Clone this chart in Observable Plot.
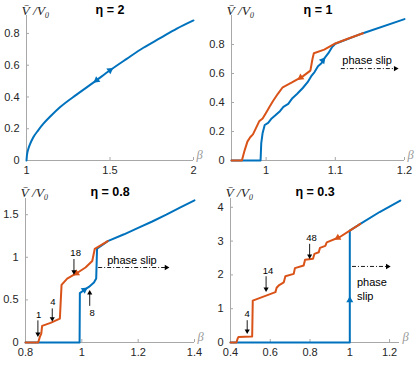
<!DOCTYPE html>
<html>
<head>
<meta charset="utf-8">
<script src="https://cdn.jsdelivr.net/npm/d3@7"></script>
<script src="https://cdn.jsdelivr.net/npm/@observablehq/plot@0.6"></script>
<style>
  html, body { margin: 0; padding: 0; background: #fff; }
  #chart { position: relative; width: 415px; height: 365px; overflow: hidden; background: #fff; }
  #chart svg { position: absolute; }
</style>
</head>
<body>
<div id="chart"></div>
<script>
// ---------------- DATA ----------------
const yLabel = "V\u0304 /V\u2080";
const xLabel = "β";

// Panel 1: eta = 2
const p1Title = "η = 2";
const p1XTicks = [1, 1.5, 2];
const p1XLabels = ["1", "1.5", "2"];
const p1YTicks = [0, 0.2, 0.4, 0.6, 0.8];
const p1YLabels = ["0", "0.2", "0.4", "0.6", "0.8"];
const p1Blue = [[1,0],[1.003,0.035],[1.01,0.07],[1.02,0.1],[1.04,0.145],[1.07,0.19],[1.1,0.23],[1.15,0.285],[1.2,0.335],[1.3,0.415],[1.4,0.49],[1.5,0.568],[1.6,0.64],[1.7,0.71],[1.8,0.77],[1.9,0.83],[2.0,0.882]];
const p1Orange = [];
const p1BlueArrows = [[1.46,0.538,1.5,0.568],[1.46,0.538,1.42,0.505]];
const p1OrangeArrows = [];

// Panel 2: eta = 1
const p2Title = "η = 1";
const p2XTicks = [1, 1.1, 1.2];
const p2XLabels = ["1", "1.1", "1.2"];
const p2YTicks = [0, 0.2, 0.4, 0.6, 0.8];
const p2YLabels = ["0", "0.2", "0.4", "0.6", "0.8"];
const p2Blue = [[0.95,0],[0.992,0],[0.993,0.12],[0.995,0.19],[0.998,0.245],[1.003,0.26],[1.008,0.29],[1.013,0.31],[1.02,0.34],[1.025,0.37],[1.032,0.39],[1.038,0.43],[1.045,0.46],[1.053,0.5],[1.06,0.54],[1.065,0.58],[1.07,0.61],[1.075,0.65],[1.08,0.67],[1.085,0.71],[1.09,0.74],[1.095,0.78],[1.1,0.805],[1.14,0.878],[1.2,0.975]];
const p2Orange = [[0.95,0],[0.965,0],[0.969,0.07],[0.973,0.13],[0.977,0.16],[0.981,0.18],[0.985,0.22],[0.99,0.27],[0.995,0.29],[1.0,0.33],[1.005,0.37],[1.01,0.41],[1.017,0.46],[1.024,0.505],[1.038,0.54],[1.053,0.58],[1.064,0.62],[1.067,0.7],[1.069,0.74],[1.084,0.765],[1.1,0.807],[1.12,0.843],[1.14,0.878]];
const p2BlueArrows = [[1.075,0.65,1.082,0.69]];
const p2OrangeArrows = [[1.064,0.62,1.05,0.572]];
const p2SlipText = [["phase slip", 1.146, 0.69]];
const p2SlipArrow = [[1.108, 1.187, 0.634]];

// Panel 3: eta = 0.8
const p3Title = "η = 0.8";
const p3XTicks = [0.8, 1, 1.2, 1.4];
const p3XLabels = ["0.8", "1", "1.2", "1.4"];
const p3YTicks = [0, 0.5, 1, 1.5];
const p3YLabels = ["0", "0.5", "1", "1.5"];
const p3Blue = [[0.8,0],[0.992,0],[0.993,0.58],[1.007,0.613],[1.025,0.652],[1.043,0.703],[1.051,0.75],[1.054,1.1],[1.092,1.19],[1.15,1.27],[1.2,1.345],[1.25,1.42],[1.3,1.5],[1.35,1.585],[1.4,1.668]];
const p3Orange = [[0.8,0],[0.845,0],[0.851,0.066],[0.856,0.105],[0.859,0.195],[0.889,0.23],[0.922,0.28],[0.928,0.676],[0.948,0.75],[0.983,0.816],[1.013,0.88],[1.037,0.957],[1.046,1.1],[1.092,1.19]];
const p3BlueArrows = [[0.993,0.58,1.009,0.618]];
const p3OrangeArrows = [[1.013,0.88,0.981,0.812]];
const p3Notes = [["18", 0.978, 1.05], ["4", 0.897, 0.47], ["1", 0.847, 0.32], ["8", 1.037, 0.35]];
const p3NoteArrows = [[0.972,0.98,0.972,0.83],[0.895,0.40,0.895,0.28],[0.844,0.26,0.844,0.10],[1.028,0.43,1.028,0.58]];
const p3SlipText = [["phase slip", 1.178, 0.965]];
const p3SlipArrow = [[1.058, 1.3, 0.88]];

// Panel 4: eta = 0.3
const p4Title = "η = 0.3";
const p4XTicks = [0.4, 0.6, 0.8, 1, 1.2];
const p4XLabels = ["0.4", "0.6", "0.8", "1", "1.2"];
const p4YTicks = [0, 1, 2, 3, 4];
const p4YLabels = ["0", "1", "2", "3", "4"];
const p4Blue = [[0.4,0],[1.0,0],[1.0,3.31],[1.053,3.51],[1.15,3.86],[1.254,4.2]];
const p4Orange = [[0.4,0],[0.43,0],[0.436,0.12],[0.44,0.16],[0.505,0.18],[0.509,0.18],[0.512,1.24],[0.626,1.49],[0.632,1.62],[0.645,1.7],[0.668,1.78],[0.676,1.96],[0.718,2.03],[0.724,2.2],[0.768,2.28],[0.775,2.45],[0.815,2.48],[0.822,2.62],[0.844,2.67],[0.85,2.8],[0.877,2.86],[0.884,2.96],[0.95,3.12],[1.0,3.31],[1.053,3.51]];
const p4BlueArrows = [[1.0,0.9,1.0,1.25]];
const p4OrangeArrows = [[1.0,3.31,0.94,3.1]];
const p4Notes = [["4", 0.484, 0.83], ["14", 0.589, 2.13], ["48", 0.807, 3.1]];
const p4NoteArrows = [[0.484,0.66,0.484,0.34],[0.579,1.96,0.579,1.58],[0.798,2.92,0.798,2.56]];
const p4SlipText = [["phase", 1.036, 1.79], ["slip", 1.036, 1.35]];
const p4SlipArrow = [[1.011, 1.19, 2.25]];

// ---------------- STYLE ----------------
const SANS = "'Liberation Sans', Arial, Helvetica, sans-serif";
const SERIF = "'Liberation Serif', 'DejaVu Serif', serif";
const BLUE = "#0072BD", ORANGE = "#D95319", AXIS = "#a8a8a8", INK = "#262626";

function panel(o) {
  const innerW = o.width - o.mL - o.mR;
  const innerH = o.height - o.mT - o.mB;
  const kx = innerW / (o.xDomain[1] - o.xDomain[0]);
  const ky = innerH / (o.yDomain[1] - o.yDomain[0]);
  const pts = a => a.map(([x, y]) => ({x, y}));
  const arr = a => a.map(([x1, y1, x2, y2]) => ({x1, y1, x2, y2}));
  const heads = (list, color, r) => Plot.dot(list, {
    x: "x2", y: "y2", symbol: "triangle", r, fill: color, stroke: null,
    rotate: d => Math.atan2((d.x2 - d.x1) * kx, (d.y2 - d.y1) * ky) * 180 / Math.PI
  });
  const marks = [
    Plot.ruleX([o.xDomain[0]], {stroke: AXIS, strokeWidth: 1}),
    Plot.ruleY([o.yDomain[0]], {stroke: AXIS, strokeWidth: 1}),
    Plot.tickY(o.yTicks, {y: d => d, insetRight: innerW - 3, stroke: AXIS}),
    Plot.tickX(o.xTicks, {x: d => d, insetTop: innerH - 3, stroke: AXIS}),
    Plot.axisX({ticks: o.xTicks, tickSize: 0, tickPadding: 6, label: null, tickFormat: d => o.xLabels[o.xTicks.indexOf(d)], fill: INK}),
    Plot.axisY({ticks: o.yTicks, tickSize: 0, tickPadding: 7, label: null, tickFormat: d => o.yLabels[o.yTicks.indexOf(d)], fill: INK}),
    Plot.line(pts(o.blue), {x: "x", y: "y", stroke: BLUE, strokeWidth: 2, curve: o.curve || "linear"}),
    Plot.line(pts(o.orange), {x: "x", y: "y", stroke: ORANGE, strokeWidth: 2}),
    heads(arr(o.blueArrows), BLUE, 2.6),
    heads(arr(o.orangeArrows), ORANGE, 2.6),
    Plot.text([o.title], {frameAnchor: "top", dy: 9 - o.mT, lineAnchor: "middle", fontWeight: "bold", fontSize: 12.5, fontFamily: SANS, fill: "#000", ariaLabel: "title"}),
    Plot.text([yLabel], {frameAnchor: "top-left", dx: -5, dy: 10 - o.mT, textAnchor: "start", lineAnchor: "middle", fontStyle: "italic", fontFamily: SERIF, fontSize: 13.5, fill: INK}),
    Plot.text([xLabel], {frameAnchor: "bottom-right", dx: 3, dy: -6, textAnchor: "start", lineAnchor: "middle", fontStyle: "italic", fontFamily: SERIF, fontSize: 12.5, fill: "#999"})
  ];
  if (o.notes) {
    const na = arr(o.noteArrows);
    marks.push(Plot.link(na, {x1: "x1", y1: "y1", x2: "x2", y2: "y2", stroke: "#000", strokeWidth: 0.9}));
    marks.push(heads(na, "#000", 1.9));
    marks.push(Plot.text(o.notes.map(([t, x, y]) => ({t, x, y})), {x: "x", y: "y", text: "t", fontSize: 9.5, fontFamily: SANS, fill: "#000", lineAnchor: "middle"}));
  }
  if (o.slipText) {
    const s = o.slipArrow.map(([x1, x2, y]) => ({x1, x2, y1: y, y2: y}));
    marks.push(Plot.link(s, {x1: "x1", x2: "x2", y1: "y1", y2: "y2", stroke: "#000", strokeWidth: 0.9, strokeDasharray: "4,2,1,2"}));
    marks.push(heads(s, "#000", 2.0));
    marks.push(Plot.text(o.slipText.map(([t, x, y]) => ({t, x, y})), {x: "x", y: "y", text: "t", fontSize: 11, fontFamily: SANS, fill: "#000", lineAnchor: "middle", textAnchor: o.slipAnchor || "middle"}));
  }
  const svg = Plot.plot({
    width: o.width, height: o.height,
    marginLeft: o.mL, marginRight: o.mR, marginTop: o.mT, marginBottom: o.mB,
    x: {domain: o.xDomain},
    y: {domain: o.yDomain},
    style: {fontFamily: SANS, fontSize: "11px", color: INK, background: "transparent", overflow: "visible"},
    marks
  });
  svg.style.left = o.left + "px";
  svg.style.top = o.top + "px";
  // mixed-style title: italic serif eta followed by bold sans text
  svg.querySelectorAll('g[aria-label="title"] text').forEach(t => {
    const str = t.textContent;
    t.textContent = "";
    const ns = "http://www.w3.org/2000/svg";
    const a = document.createElementNS(ns, "tspan");
    a.setAttribute("font-family", SERIF);
    a.setAttribute("font-style", "italic");
    a.setAttribute("font-weight", "normal");
    a.setAttribute("font-size", "14");
    a.textContent = str[0];
    const b = document.createElementNS(ns, "tspan");
    b.textContent = str.slice(1);
    t.append(a, b);
  });
  document.getElementById("chart").appendChild(svg);
}

panel({left: 0, top: 0, width: 207, height: 182, mL: 26, mR: 14, mT: 15, mB: 22,
  xDomain: [1, 2], yDomain: [0, 0.913], xTicks: p1XTicks, xLabels: p1XLabels, yTicks: p1YTicks, yLabels: p1YLabels,
  title: p1Title, blue: p1Blue, orange: p1Orange, blueArrows: p1BlueArrows, orangeArrows: p1OrangeArrows, curve: "monotone-x"});

panel({left: 205, top: 0, width: 210, height: 182, mL: 26, mR: 11, mT: 15, mB: 22,
  xDomain: [0.95, 1.2], yDomain: [0, 1.0], xTicks: p2XTicks, xLabels: p2XLabels, yTicks: p2YTicks, yLabels: p2YLabels,
  title: p2Title, blue: p2Blue, orange: p2Orange, blueArrows: p2BlueArrows, orangeArrows: p2OrangeArrows,
  slipText: p2SlipText, slipArrow: p2SlipArrow});

panel({left: 0, top: 182, width: 207, height: 183, mL: 25, mR: 13, mT: 16, mB: 23,
  xDomain: [0.8, 1.4], yDomain: [0, 1.69], xTicks: p3XTicks, xLabels: p3XLabels, yTicks: p3YTicks, yLabels: p3YLabels,
  title: p3Title, blue: p3Blue, orange: p3Orange, blueArrows: p3BlueArrows, orangeArrows: p3OrangeArrows,
  notes: p3Notes, noteArrows: p3NoteArrows, slipText: p3SlipText, slipArrow: p3SlipArrow});

panel({left: 205, top: 182, width: 210, height: 183, mL: 25, mR: 16, mT: 16, mB: 23,
  xDomain: [0.4, 1.25], yDomain: [0, 4.26], xTicks: p4XTicks, xLabels: p4XLabels, yTicks: p4YTicks, yLabels: p4YLabels,
  title: p4Title, blue: p4Blue, orange: p4Orange, blueArrows: p4BlueArrows, orangeArrows: p4OrangeArrows,
  notes: p4Notes, noteArrows: p4NoteArrows, slipText: p4SlipText, slipArrow: p4SlipArrow, slipAnchor: "start"});
</script>
</body>
</html>
